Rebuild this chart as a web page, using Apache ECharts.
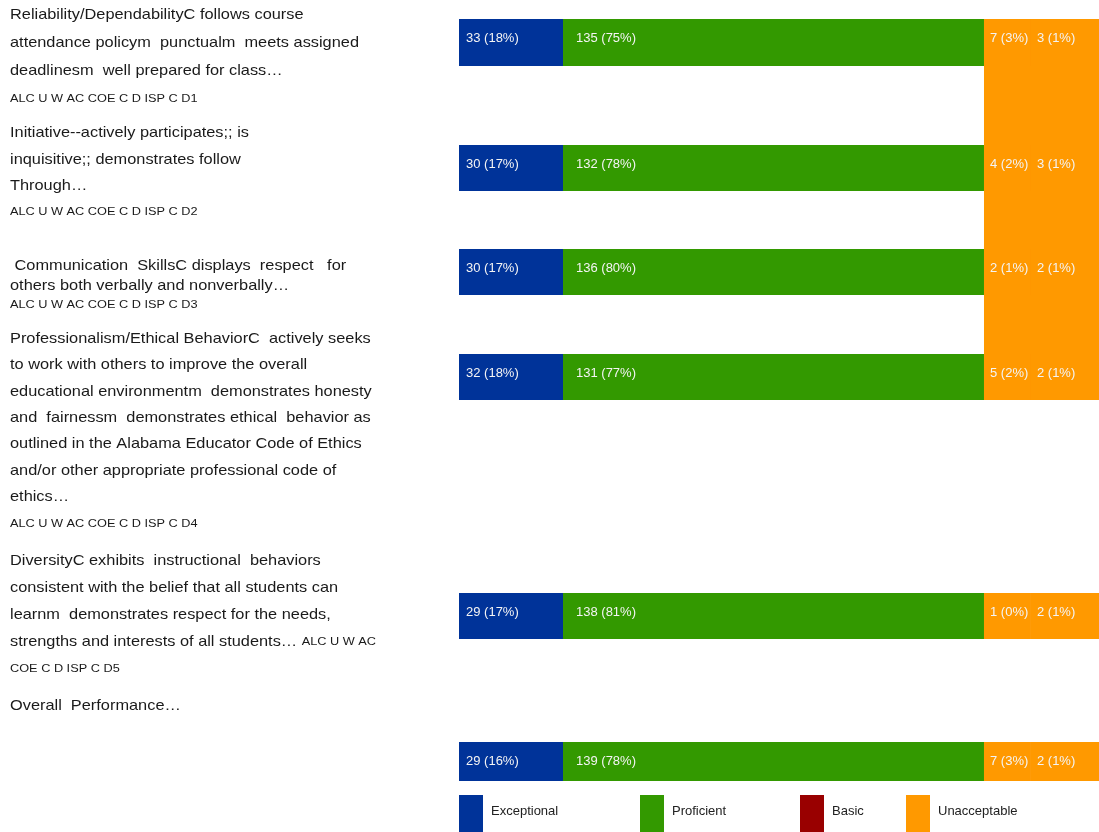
<!DOCTYPE html>
<html>
<head>
<meta charset="utf-8">
<script src="https://cdn.jsdelivr.net/npm/echarts@6/dist/echarts.min.js"></script>
<style>
html, body { margin: 0; padding: 0; background: #fff; }
#chart { width: 1099px; height: 832px; }
</style>
</head>
<body>
<div id="chart"></div>
<script>
// rating levels (legend order)
const levels = ["Exceptional", "Proficient", "Basic", "Unacceptable"];

// item names, one per row
const categories = [
      "Reliability/Dependability",
      "Initiative",
      "Communication Skills",
      "Professionalism/Ethical Behavior",
      "Diversity",
      "Overall Performance",
];

// counts and percents per level, one value per row
const exceptionalCount = [33, 30, 30, 32, 29, 29];
const exceptionalPct = [18, 17, 17, 18, 17, 16];
const proficientCount = [135, 132, 136, 131, 138, 139];
const proficientPct = [75, 78, 80, 77, 81, 78];
const basicCount = [7, 4, 2, 5, 1, 7];
const basicPct = [3, 2, 1, 2, 0, 3];
const unacceptableCount = [3, 3, 2, 2, 2, 2];
const unacceptablePct = [1, 1, 1, 1, 1, 1];

// share of the drawn bar taken by each level (same on every row in the picture)
const drawnShare = [16.25, 65.78, 7.34, 10.63];

// left side item text, line by line ({c|..} = code line)
const itemText = [
      [
            "Reliability/DependabilityC follows course",
            "attendance policym  punctualm  meets assigned",
            "deadlinesm  well prepared for class…",
            "{c|ALC U W AC COE C D ISP C D1}",
      ],
      [
            "Initiative--actively participates;; is",
            "inquisitive;; demonstrates follow",
            "Through…",
            "{c|ALC U W AC COE C D ISP C D2}",
      ],
      [
            " Communication  SkillsC displays  respect   for",
            "others both verbally and nonverbally…",
            "{c|ALC U W AC COE C D ISP C D3}",
      ],
      [
            "Professionalism/Ethical BehaviorC  actively seeks",
            "to work with others to improve the overall",
            "educational environmentm  demonstrates honesty",
            "and  fairnessm  demonstrates ethical  behavior as",
            "outlined in the Alabama Educator Code of Ethics",
            "and/or other appropriate professional code of",
            "ethics…",
            "{c|ALC U W AC COE C D ISP C D4}",
      ],
      [
            "DiversityC exhibits  instructional  behaviors",
            "consistent with the belief that all students can",
            "learnm  demonstrates respect for the needs,",
            "strengths and interests of all students… {c|ALC U W AC}",
            "{c|COE C D ISP C D5}",
      ],
      ["Overall  Performance…"],
];

// layout
const rowTop = [19, 145, 249, 354, 593, 742];
const rowHeight = [47, 46, 46, 46, 46, 39];
const textTop = [1.5, 120, 256.5, 325.5, 547, 692];
const textLine = [27.7, 26.3, 19.5, 26.4, 27, 27];
const barColors = ["#003399", "#339900", "#FF9900", "#FF9900"];
const legendColors = ["#003399", "#339900", "#990000", "#FF9900"];
const legendLeft = [459, 640, 800, 906];
const labelX = [7, 13, 6, 6];
const FONT = "'Liberation Sans', Arial, sans-serif";

const counts = [exceptionalCount, proficientCount, basicCount, unacceptableCount];
const pcts = [exceptionalPct, proficientPct, basicPct, unacceptablePct];

const grid = [];
const xAxis = [];
const yAxis = [];
const series = [];

categories.forEach((cat, i) => {
      grid.push({ left: 459, width: 640, top: rowTop[i], height: rowHeight[i] });
      xAxis.push({ type: "value", gridIndex: i, min: 0, max: 100, show: false });
      yAxis.push({ type: "category", gridIndex: i, data: [cat], show: false });
      levels.forEach((lv, k) => {
            series.push({
                  name: lv,
                  type: "bar",
                  stack: "row" + i,
                  xAxisIndex: i,
                  yAxisIndex: i,
                  barWidth: "100%",
                  z: 3,
                  itemStyle: { color: barColors[k] },
                  label: {
                        show: true,
                        position: [labelX[k], 19],
                        verticalAlign: "middle",
                        color: "#f4f4f4",
                        fontFamily: FONT,
                        fontSize: 13,
                        formatter: counts[k][i] + " (" + pcts[k][i] + "%)",
                  },
                  data: [drawnShare[k]],
            });
      });
});

// orange band joining the first four rows, as in the picture
const bridge = categories.length;
grid.push({ left: 459, width: 640, top: rowTop[0], height: rowTop[3] + rowHeight[3] - rowTop[0] });
xAxis.push({ type: "value", gridIndex: bridge, min: 0, max: 100, show: false });
yAxis.push({ type: "category", gridIndex: bridge, data: ["band"], show: false });
series.push(
      {
            name: "bandGap",
            type: "bar",
            stack: "band",
            xAxisIndex: bridge,
            yAxisIndex: bridge,
            barWidth: "100%",
            silent: true,
            z: 1,
            itemStyle: { color: "rgba(0,0,0,0)" },
            data: [drawnShare[0] + drawnShare[1]],
      },
      {
            name: "band",
            type: "bar",
            stack: "band",
            xAxisIndex: bridge,
            yAxisIndex: bridge,
            barWidth: "100%",
            silent: true,
            z: 1,
            itemStyle: { color: barColors[3] },
            data: [drawnShare[2] + drawnShare[3]],
      }
);

// left text blocks (the source font is drawn a bit wider than Arial)
const graphic = itemText.map((lines, i) => ({
      type: "text",
      x: 10,
      y: textTop[i],
      scaleX: 1.09,
      silent: true,
      style: {
            text: lines.join("\n"),
            font: "15px " + FONT,
            fill: "#1a1a1a",
            lineHeight: textLine[i],
            rich: {
                  c: { fontFamily: FONT, fontSize: 11.7, fill: "#1a1a1a", lineHeight: textLine[i] },
            },
      },
}));

const legend = levels.map((lv, k) => ({
      data: [{ name: lv, itemStyle: { color: legendColors[k] } }],
      left: legendLeft[k],
      top: 795,
      padding: 0,
      icon: "rect",
      itemWidth: 24,
      itemHeight: 40,
      selectedMode: false,
      formatter: "{t|{name}}",
      textStyle: {
            fontFamily: FONT,
            fontSize: 13,
            color: "#222",
            rich: { t: { fontFamily: FONT, fontSize: 13, color: "#222", padding: [0, 0, 7, 3] } },
      },
}));

const chart = echarts.init(document.getElementById("chart"));
chart.setOption({
      animation: false,
      backgroundColor: "#fff",
      grid: grid,
      xAxis: xAxis,
      yAxis: yAxis,
      legend: legend,
      graphic: graphic,
      series: series,
});
</script>
</body>
</html>
